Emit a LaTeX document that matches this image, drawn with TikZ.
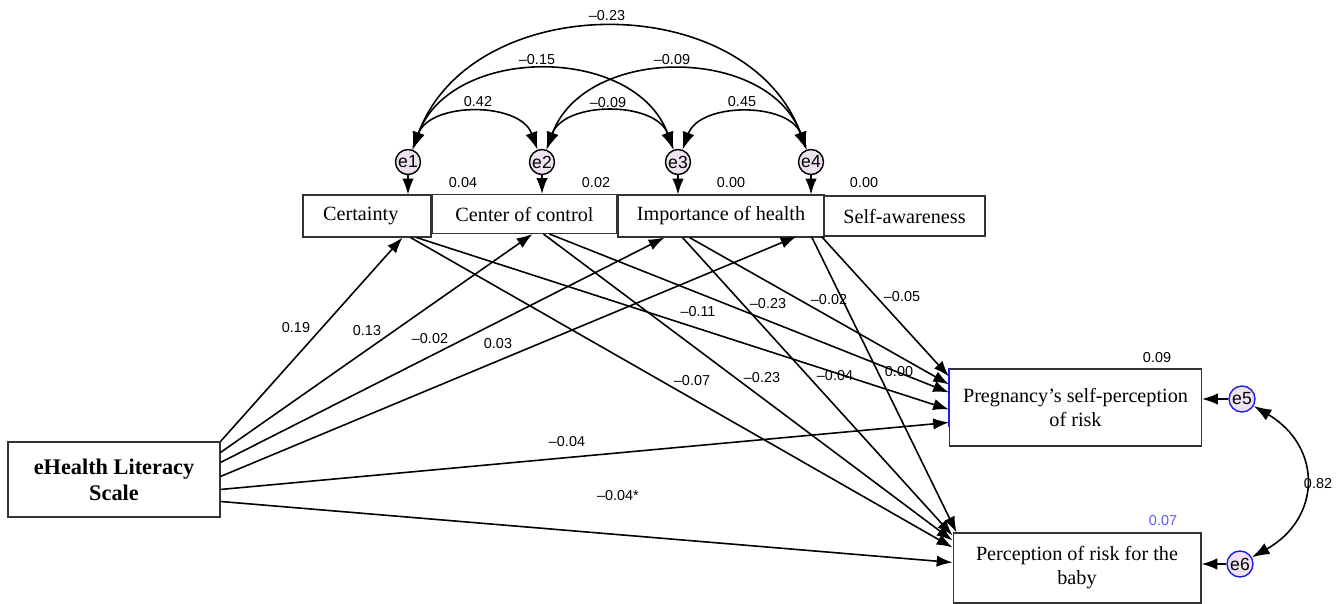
\documentclass[tikz,border=0pt]{standalone}
\usepackage{fontspec}
\setmainfont{Liberation Serif}
\setsansfont{Liberation Sans}
\usetikzlibrary{arrows.meta,calc}
\newcommand{\numfont}{\sffamily\fontsize{8.2}{10}\selectfont}
\newcommand{\boxfont}{\rmfamily\fontsize{11.5}{13.6}\selectfont}
\definecolor{errfill}{HTML}{EEE2F0}
\definecolor{errblue}{HTML}{1E1EE6}
\definecolor{rsqblue}{HTML}{5A5AF5}

\tikzset{
  varbox/.style={draw=black!80, line width=0.6pt, font=\boxfont, align=center, inner sep=2pt},
  errnode/.style={circle, draw=black, fill=errfill, line width=0.8pt, inner sep=0pt,
    minimum size=0.5cm, font=\sffamily\fontsize{10}{10}\selectfont},
  regpath/.style={line width=0.9pt, -{Latex[length=9pt,width=6.5pt]}},
  covpath/.style={line width=0.9pt, {Latex[length=10pt,width=7pt]}-{Latex[length=10pt,width=7pt]}},
  coef/.style={font=\numfont, inner sep=1pt}
}

\begin{document}
\begin{tikzpicture}[x=0.02cm, y=-0.02cm]
  \useasboundingbox (0,0) rectangle (1343,604);

  % observed variables
  \node[varbox, minimum width=4.24cm, minimum height=1.5cm, font=\rmfamily\bfseries\fontsize{12.7}{14.7}\selectfont]
    (ehl) at (114,479.5) {eHealth Literacy\\Scale};
  \node[varbox, minimum width=2.56cm, minimum height=0.84cm] (cert) at (367,216) {Certainty\hspace*{0.25cm}};
  \node[varbox, minimum width=3.70cm, minimum height=0.78cm] (ctrl) at (524.5,214) {Center of control};
  \node[varbox, minimum width=4.12cm, minimum height=0.84cm] (imp) at (721,216) {Importance of health};
  \node[varbox, minimum width=3.22cm, minimum height=0.80cm] (self) at (904.5,216) {Self-awareness};
  \node[varbox, minimum width=5.04cm, minimum height=1.54cm] (preg) at (1075.5,407.5)
    {Pregnancy's self-perception\\of risk};
  \node[varbox, minimum width=4.96cm, minimum height=1.40cm] (baby) at (1077,568)
    {Perception of risk for the\\baby};
  \draw[errblue, line width=0.9pt] (preg.north west) -- ($(preg.north west)+(0,59)$);

  % error terms
  \node[errnode] (e1) at (408,162) {e1};
  \node[errnode] (e2) at (542,162) {e2};
  \node[errnode] (e3) at (678,162) {e3};
  \node[errnode] (e4) at (811,162) {e4};
  \node[errnode, draw=errblue, minimum size=0.52cm] (e5) at (1242,399) {e5};
  \node[errnode, draw=errblue, minimum size=0.52cm] (e6) at (1240,564) {e6};

  \draw[regpath] (e1) -- (e1 |- cert.north);
  \draw[regpath] (e2) -- (e2 |- ctrl.north);
  \draw[regpath] (e3) -- (e3 |- imp.north);
  \draw[regpath] (e4) -- (e4 |- imp.north);
  \draw[regpath] (e5) -- (e5 -| preg.east);
  \draw[regpath] (e6) -- (e6 -| baby.east);

  % covariances
  \draw[covpath] (e1) to[bend left=70, looseness=1.05] (e2);
  \draw[covpath] (e2) to[bend left=70, looseness=1.05] (e3);
  \draw[covpath] (e3) to[bend left=70, looseness=1.05] (e4);
  \draw[covpath] (e1) to[bend left=70, looseness=1.1] (e3);
  \draw[covpath] (e2) to[bend left=70, looseness=1.1] (e4);
  \draw[covpath] (e1) to[bend left=70, looseness=1.12] (e4);
  \draw[covpath] (e5) to[bend left=60, looseness=1.35] (e6);

  % ports on the box edges
  \coordinate (cert-in) at ($(cert.south west)+(100,0)$);
  \coordinate (ctrl-in) at ($(ctrl.south west)+(101,0)$);
  \coordinate (imp-in)  at ($(imp.south west)+(47,0)$);
  \coordinate (self-in) at ($(self.south west)+(-27,0)$);
  \coordinate (preg-self) at ($(preg.north west)+(0,8)$);
  \coordinate (preg-imp)  at ($(preg.north west)+(0,16)$);
  \coordinate (preg-ctrl) at ($(preg.north west)+(0,24)$);
  \coordinate (preg-cert) at ($(preg.north west)+(0,41)$);
  \coordinate (preg-ehl)  at ($(preg.north west)+(0,54)$);
  \coordinate (baby-self) at ($(baby.north west)+(4,0)$);
  \coordinate (baby-imp)  at ($(baby.north west)+(0,3)$);
  \coordinate (baby-ctrl) at ($(baby.north west)+(0,8)$);
  \coordinate (baby-cert) at ($(baby.north west)+(0,15)$);
  \coordinate (baby-ehl)  at ($(baby.north west)+(0,30)$);

  % regression paths
  \foreach \dy/\tgt in {0/cert-in,11/ctrl-in,21/imp-in,35/self-in,48/preg-ehl,60/baby-ehl}
    \draw[regpath] ($(ehl.north east)+(0,\dy)$) -- (\tgt);
  \foreach \src/\dx/\tgt in {cert/108/baby-cert,cert/114/preg-cert,ctrl/112/baby-ctrl,ctrl/118/preg-ctrl,
                             imp/65/baby-imp,imp/72/preg-imp,self/-12/baby-self,self/-2/preg-self}
    \draw[regpath] ($(\src.south west)+(\dx,0)$) -- (\tgt);

  % estimates
  \node[coef] (r-cert) at (463,183) {0.04};
  \node[coef] (r-ctrl) at (596,183) {0.02};
  \node[coef] (r-imp)  at (731,183) {0.00};
  \node[coef] (r-self) at (864,183) {0.00};
  \node[coef] (r-preg) at (1157,358) {0.09};
  \node[coef, text=rsqblue] (r-baby) at (1163,521) {0.07};
  \node[coef] (c12) at (478,102) {0.42};
  \node[coef] (c13) at (537,60) {–0.15};
  \node[coef] (c14) at (607,16) {–0.23};
  \node[coef] (c23) at (608,103) {–0.09};
  \node[coef] (c24) at (672,60) {–0.09};
  \node[coef] (c34) at (742,102) {0.45};
  \node[coef] (c56) at (1318,484) {0.82};
  \node[coef] (b-cert) at (296,328) {0.19};
  \node[coef] (b-ctrl) at (367,331) {0.13};
  \node[coef] (b-imp)  at (430,339) {–0.02};
  \node[coef] (b-self) at (498,344) {0.03};
  \node[coef] (p-cert) at (698,312) {–0.11};
  \node[coef] (p-ctrl) at (768,304) {–0.23};
  \node[coef] (p-imp)  at (829,300) {–0.02};
  \node[coef] (p-self) at (902,297) {–0.05};
  \node[coef] (q-cert) at (692,381) {–0.07};
  \node[coef] (q-ctrl) at (762,378) {–0.23};
  \node[coef] (q-imp)  at (835,376) {–0.04};
  \node[coef] (q-self) at (899,372) {0.00};
  \node[coef] (p-ehl)  at (567,442) {–0.04};
  \node[coef] (q-ehl)  at (618,496) {–0.04*};
\end{tikzpicture}
\end{document}
